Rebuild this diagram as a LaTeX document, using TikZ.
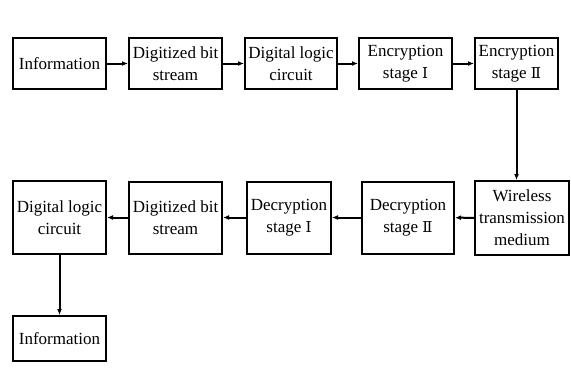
\documentclass[tikz,border=0pt]{standalone}
\usepackage{fontspec}
\setmainfont{Liberation Serif}
\newfontfamily\romfont{DejaVu Serif}
\usetikzlibrary{arrows.meta, positioning}

\newcommand{\rI}{{\romfont\fontsize{15}{22}\selectfont Ⅰ}}
\newcommand{\rII}{{\romfont\fontsize{15}{22}\selectfont Ⅱ}}

\begin{document}
\begin{tikzpicture}[
  x=1pt, y=-1pt, >={Latex[length=6pt,width=5pt]},
  block/.style={rectangle, draw, line width=2pt, align=center,
    inner sep=1pt, font=\fontsize{17}{22}\selectfont},
  flow/.style={->, line width=2pt}
]
  \useasboundingbox (0,0) rectangle (571,368);

  % top row
  \node[block, minimum width=93pt, minimum height=51pt] (info1) at (59.5,63.5) {Information};
  \node[block, minimum width=93pt, minimum height=51pt] (bits1) at (175.5,63.5) {Digitized bit\\stream};
  \node[block, minimum width=92pt, minimum height=51pt] (logic1) at (291,63.5) {Digital logic\\circuit};
  \node[block, minimum width=93pt, minimum height=51pt] (enc1) at (405.5,63.5) {Encryption\\stage \rI};
  \node[block, minimum width=83pt, minimum height=51pt] (enc2) at (516.5,63.5) {Encryption\\stage \rII};

  % bottom row
  \node[block, minimum width=94pt, minimum height=74pt] (medium) at (522,218) {Wireless\\transmission\\medium};
  \node[block, minimum width=92pt, minimum height=72pt] (dec2) at (408,217.5) {Decryption\\stage \rII};
  \node[block, minimum width=84pt, minimum height=72pt] (dec1) at (289,217.5) {Decryption\\stage \rI};
  \node[block, minimum width=93pt, minimum height=72pt] (bits2) at (175.5,217.5) {Digitized bit\\stream};
  \node[block, minimum width=93pt, minimum height=73pt] (logic2) at (59.5,217.5) {Digital logic\\circuit};
  \node[block, minimum width=93pt, minimum height=45pt] (info2) at (59.5,338.5) {Information};

  \draw[flow] (info1) -- (bits1);
  \draw[flow] (bits1) -- (logic1);
  \draw[flow] (logic1) -- (enc1);
  \draw[flow] (enc1) -- (enc2);
  \draw[flow] (enc2.south) -- (enc2.south |- medium.north);
  \draw[flow] (medium) -- (dec2);
  \draw[flow] (dec2) -- (dec1);
  \draw[flow] (dec1) -- (bits2);
  \draw[flow] (bits2) -- (logic2);
  \draw[flow] (logic2) -- (info2);
\end{tikzpicture}
\end{document}
